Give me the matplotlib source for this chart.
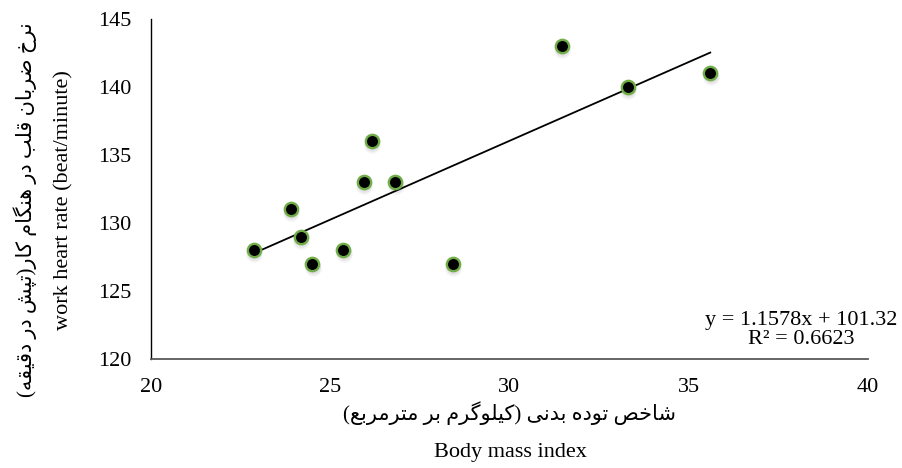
import numpy as np
import matplotlib
matplotlib.use("Agg")
import matplotlib.pyplot as plt
from matplotlib import transforms

# ---- data ----
bmi = [22.87, 23.9, 24.18, 24.5, 25.36, 25.94, 26.16, 26.82, 28.42, 31.46, 33.3, 35.6]
heart_rate = [128, 131, 129, 127, 128, 133, 136, 133, 127, 143, 140, 141]
x_ticks = [20, 25, 30, 35, 40]
y_ticks = [120, 125, 130, 135, 140, 145]
eq_text = "y = 1.1578x + 101.32"
r2_text = "R² = 0.6623"
ylabel_fa = "نرخ ضربان قلب در هنگام کار(تپش در دقیقه)"
ylabel_en = "work heart rate (beat/minute)"
xlabel_fa = "شاخص توده بدنی (کیلوگرم بر مترمربع)"
xlabel_en = "Body mass index"

# ---- minimal Persian shaping (presentation forms, visual order) ----
FORMS = {  # iso, fin, ini, med ; None for non-left-joining
    'ا': ('\uFE8D', '\uFE8E', None, None),
    'ب': ('\uFE8F', '\uFE90', '\uFE91', '\uFE92'),
    'پ': ('\uFB56', '\uFB57', '\uFB58', '\uFB59'),
    'ت': ('\uFE95', '\uFE96', '\uFE97', '\uFE98'),
    'خ': ('\uFEA5', '\uFEA6', '\uFEA7', '\uFEA8'),
    'د': ('\uFEA9', '\uFEAA', None, None),
    'ر': ('\uFEAD', '\uFEAE', None, None),
    'ش': ('\uFEB5', '\uFEB6', '\uFEB7', '\uFEB8'),
    'ص': ('\uFEB9', '\uFEBA', '\uFEBB', '\uFEBC'),
    'ض': ('\uFEBD', '\uFEBE', '\uFEBF', '\uFEC0'),
    'ع': ('\uFEC9', '\uFECA', '\uFECB', '\uFECC'),
    'ق': ('\uFED5', '\uFED6', '\uFED7', '\uFED8'),
    'ک': ('\uFB8E', '\uFB8F', '\uFB90', '\uFB91'),
    'گ': ('\uFB92', '\uFB93', '\uFB94', '\uFB95'),
    'ل': ('\uFEDD', '\uFEDE', '\uFEDF', '\uFEE0'),
    'م': ('\uFEE1', '\uFEE2', '\uFEE3', '\uFEE4'),
    'ن': ('\uFEE5', '\uFEE6', '\uFEE7', '\uFEE8'),
    'ه': ('\uFEE9', '\uFEEA', '\uFEEB', '\uFEEC'),
    'و': ('\uFEED', '\uFEEE', None, None),
    'ی': ('\uFBFC', '\uFBFD', '\uFBFE', '\uFBFF'),
}


def shape(text):
    out = []
    n = len(text)
    for i, c in enumerate(text):
        if c not in FORMS:
            out.append(c)
            continue
        f = FORMS[c]
        prev = text[i - 1] if i > 0 else ''
        nxt = text[i + 1] if i < n - 1 else ''
        jp = prev in FORMS and FORMS[prev][2] is not None
        jn = f[2] is not None and nxt in FORMS
        if jp and jn:
            out.append(f[3])
        elif jp:
            out.append(f[1])
        elif jn:
            out.append(f[2])
        else:
            out.append(f[0])
    vis = ''.join(reversed(out))
    vis = vis.translate(str.maketrans({'(': ')', ')': '('}))
    return vis


SERIF = ['Liberation Serif', 'DejaVu Sans']
plt.rcParams['font.family'] = SERIF

fig = plt.figure(figsize=(9.03, 4.68), dpi=100)
ax = fig.add_axes([151 / 903, 1 - 359 / 468, (868 - 151) / 903, (359 - 19) / 468])

# trendline
coef = np.polyfit(bmi, heart_rate, 1)
xs = np.array([min(bmi), max(bmi)])
ax.plot(xs, np.polyval(coef, xs), color='black', lw=1.3, zorder=3)

# soft shadows below the markers
for dy, al, ms in [(-4, 0.08, 12), (-3, 0.10, 11), (-2, 0.10, 10)]:
    tr = transforms.offset_copy(ax.transData, fig=fig, x=0.5, y=dy, units='dots')
    ax.plot(bmi, heart_rate, 'o', ms=ms, color='#808080', alpha=al, mec='none',
            transform=tr, zorder=2)
ax.plot(bmi, heart_rate, 'o', ms=9.6, mfc='black', mec='#70AD47', mew=1.7, zorder=4)

ax.set_xlim(20, 40)
ax.set_ylim(120, 145)
ax.set_xticks(x_ticks)
ax.set_yticks(y_ticks)
ax.tick_params(axis='both', length=0, labelsize=16)
ax.tick_params(axis='y', pad=14)
ax.tick_params(axis='x', pad=14)
for s in ['top', 'right']:
    ax.spines[s].set_visible(False)
ax.spines['left'].set_color('black')
ax.spines['left'].set_linewidth(1.0)
ax.spines['bottom'].set_color('#595959')
ax.spines['bottom'].set_linewidth(1.3)

# equation
fig.text(801 / 903, 1 - 321 / 468, eq_text, ha='center', va='center', fontsize=16)
fig.text(801 / 903, 1 - 340 / 468, r2_text, ha='center', va='center', fontsize=16)

# axis labels
fig.text(25 / 903, 1 - 210 / 468, shape(ylabel_fa), rotation=90, ha='center', va='center',
         fontsize=15, family=SERIF)
fig.text(64 / 903, 1 - 200 / 468, ylabel_en, rotation=90, ha='center', va='center',
         fontsize=16)
fig.text(510 / 903, 1 - 413 / 468, shape(xlabel_fa), ha='center', va='center',
         fontsize=15, family=SERIF)
fig.text(510 / 903, 1 - 453 / 468, xlabel_en, ha='center', va='center', fontsize=16)

fig.savefig('out.png', dpi=100)
